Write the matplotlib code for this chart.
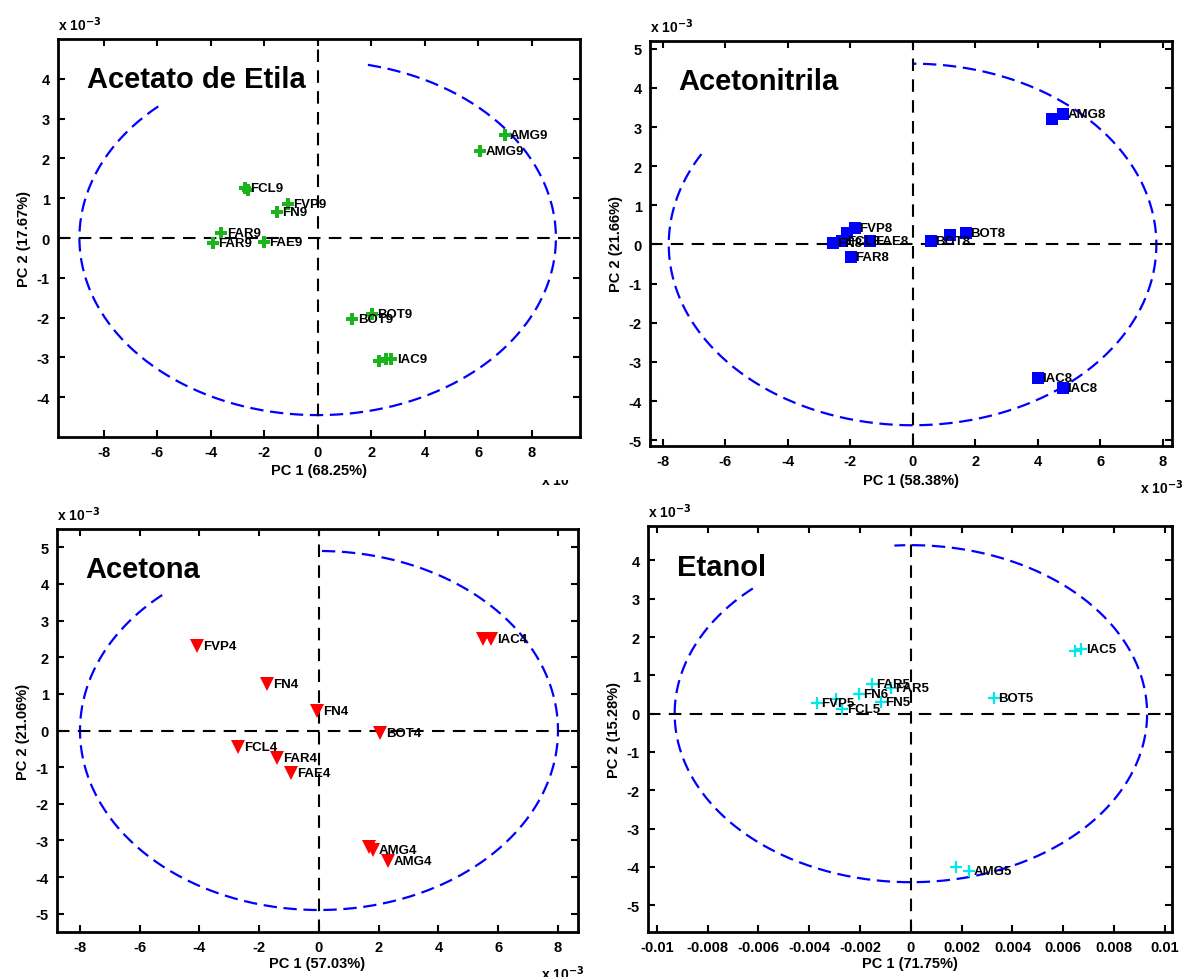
import numpy as np
import matplotlib
matplotlib.use("Agg")
from matplotlib import pyplot as plt
from matplotlib.transforms import Bbox

plt.rcParams['font.family'] = ['Liberation Sans', 'DejaVu Sans']
plt.rcParams['axes.unicode_minus'] = False

W, H = 1182, 978

# ---------------- scores (PC1, PC2 in units of 1e-3, panel 4 PC1 in raw units)
ae_pc1 = [6.99, 6.06, -2.71, -2.62, -1.12, -1.52, -3.60, -3.90, -2.00, 1.30, 2.04, 2.30, 2.55, 2.75]
ae_pc2 = [2.58, 2.18, 1.25, 1.20, 0.85, 0.65, 0.12, -0.12, -0.10, -2.03, -1.90, -3.08, -3.05, -3.03]
ae_lab = ['AMG9', 'AMG9', 'FCL9', '', 'FVP9', 'FN9', 'FAR9', 'FAR9', 'FAE9', 'BOT9', 'BOT9', '', '', 'IAC9']

an_pc1 = [4.47, 4.80, 4.00, 4.80, 0.58, 1.20, 1.70, -1.85, -2.10, -2.55, -2.25, -1.35, -1.98]
an_pc2 = [3.20, 3.34, -3.42, -3.67, 0.08, 0.25, 0.30, 0.42, 0.30, 0.03, 0.10, 0.10, -0.33]
an_lab = ['', 'AMG8', 'IAC8', 'IAC8', 'BOT8', '', 'BOT8', 'FVP8', '', 'FN8', 'FCL8', 'FAE8', 'FAR8']

ac_pc1 = [5.50, 5.75, -4.08, -1.74, -0.07, -2.70, -1.40, -0.94, 2.04, 1.67, 1.80, 2.30]
ac_pc2 = [2.50, 2.50, 2.30, 1.28, 0.52, -0.44, -0.74, -1.17, -0.08, -3.18, -3.27, -3.57]
ac_lab = ['', 'IAC4', 'FVP4', 'FN4', 'FN4', 'FCL4', 'FAR4', 'FAE4', 'BOT4', '', 'AMG4', 'AMG4']

et_pc1 = [0.00646, 0.00670, 0.00327, 0.00177, 0.00228, -0.00154, -0.00079, -0.00205,
          -0.00118, -0.00370, -0.00295, -0.00270]
et_pc2 = [1.64, 1.70, 0.42, -4.00, -4.10, 0.78, 0.68, 0.52, 0.31, 0.29, 0.39, 0.13]
et_lab = ['', 'IAC5', 'BOT5', '', 'AMG5', 'FAR5', 'FAR5', 'FN6', 'FN5', 'FVP5', '', 'FCL5']

et_xtl = ['-0.01', '-0.008', '-0.006', '-0.004', '-0.002', '0',
          '0.002', '0.004', '0.006', '0.008', '0.01']


def add_axes(l, t, r, b):
    return fig.add_axes([l / W, 1 - b / H, (r - l) / W, (b - t) / H])


def draw_panel(ax, pc1, pc2, labels, marker, color, ms, mew, ell_a, ell_b, gap,
               title, xlab, ylab, xlim, ylim, xticks, yticks, xtl=None, dx=0.0, xpad=3):
    # confidence ellipse, part of it hidden behind the title
    t = np.radians(np.linspace(gap[1], gap[0] + 360, 400))
    ax.plot(ell_a * np.cos(t), ell_b * np.sin(t), '--', color='#0000ff',
            lw=1.6, dashes=(6, 3), zorder=1)
    ax.plot(xlim, [0, 0], '--', color='k', lw=1.5, dashes=(6, 4), zorder=1)
    ax.plot([0, 0], ylim, '--', color='k', lw=1.5, dashes=(6, 4), zorder=1)

    ax.plot(pc1, pc2, linestyle='none', marker=marker, color=color, ms=ms, mew=mew, zorder=3)
    for x, y, s in zip(pc1, pc2, labels):
        if s:
            ax.text(x + dx, y, s, fontsize=9.5, fontweight='bold', va='center', ha='left', zorder=4)

    ax.text(0.055, 0.9, title, transform=ax.transAxes, fontsize=21, fontweight='bold',
            va='center', ha='left')
    ax.set_xlim(xlim)
    ax.set_ylim(ylim)
    ax.set_xticks(xticks)
    ax.set_yticks(yticks)
    if xtl is not None:
        ax.set_xticklabels(xtl)
    ax.set_xlabel(xlab, fontsize=10.5, fontweight='bold', labelpad=xpad)
    ax.set_ylabel(ylab, fontsize=10.5, fontweight='bold', labelpad=4)
    ax.tick_params(direction='in', top=True, right=True, length=5, width=1.5,
                   labelsize=10.5, pad=6)
    for lab in ax.get_xticklabels() + ax.get_yticklabels():
        lab.set_fontweight('bold')
    for sp in ax.spines.values():
        sp.set_linewidth(2)
    ax.text(0.0, 1.015, r'x 10$^{\mathbf{-3}}$', transform=ax.transAxes, fontsize=10,
            fontweight='bold', ha='left', va='bottom')


fig = plt.figure(figsize=(W / 100, H / 100), dpi=100)

ax1 = add_axes(58, 40, 580, 438)
draw_panel(ax1, ae_pc1, ae_pc2, ae_lab, 'P', '#1cb41c', 8, 0, 8.9, 4.45, (78, 132),
           'Acetato de Etila', 'PC 1 (68.25%)', 'PC 2 (17.67%)',
           (-9.7, 9.8), (-5.0, 5.0), np.arange(-8, 9, 2), np.arange(-4, 5, 1), dx=0.2)

ax2 = add_axes(650, 42, 1172, 447)
draw_panel(ax2, an_pc1, an_pc2, an_lab, 's', '#0000ff', 9, 0, 7.8, 4.62, (90, 150),
           'Acetonitrila', 'PC 1 (58.38%)', 'PC 2 (21.66%)',
           (-8.4, 8.3), (-5.15, 5.2), np.arange(-8, 9, 2), np.arange(-5, 6, 1), dx=0.15)

ax3 = add_axes(57, 530, 578, 933)
draw_panel(ax3, ac_pc1, ac_pc2, ac_lab, 'v', '#ff0000', 10, 0, 8.0, 4.9, (90, 131),
           'Acetona', 'PC 1 (57.03%)', 'PC 2 (21.06%)',
           (-8.77, 8.67), (-5.5, 5.5), np.arange(-8, 9, 2), np.arange(-5, 6, 1), dx=0.2, xpad=1)

ax4 = add_axes(648, 527, 1172, 933)
draw_panel(ax4, et_pc1, et_pc2, et_lab, '+', '#00e8e8', 9, 1.6, 0.0093, 4.4, (94, 132),
           'Etanol', 'PC 1 (71.75%)', 'PC 2 (15.28%)',
           (-0.01035, 0.01028), (-5.7, 4.9), np.arange(-0.01, 0.0101, 0.002), np.arange(-5, 5, 1),
           xtl=et_xtl, dx=0.00018, xpad=1)

# x-axis multipliers in the lower right corners
clip = Bbox.from_extents(0, 0, W, H - 481)
t1 = fig.text(541 / W, 1 - 470 / H, r'x 10$^{\mathbf{-3}}$', fontsize=10, fontweight='bold',
              ha='left', va='top')
t1.set_clip_box(clip)
t1.set_clip_on(True)
fig.text(1140 / W, 1 - 478 / H, r'x 10$^{\mathbf{-3}}$', fontsize=10, fontweight='bold',
         ha='left', va='top')
fig.text(541 / W, 1 - 964 / H, r'x 10$^{\mathbf{-3}}$', fontsize=10, fontweight='bold',
         ha='left', va='top')

fig.savefig('out.png', dpi=100)
